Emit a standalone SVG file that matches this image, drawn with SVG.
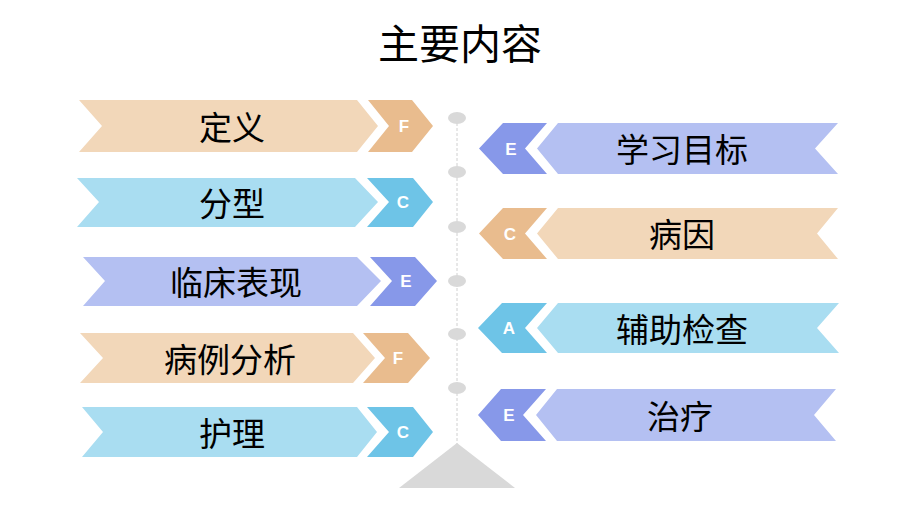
<svg xmlns="http://www.w3.org/2000/svg" width="920" height="517" viewBox="0 0 920 517">
<style>
.t{font-family:"Noto Sans CJK SC","Liberation Sans",sans-serif;font-size:33px;fill:#000;text-anchor:middle}
.title{font-family:"Noto Sans CJK SC","Liberation Sans",sans-serif;font-size:41px;fill:#000;text-anchor:middle}
.l{font-family:"Liberation Sans",Arial,sans-serif;font-size:17px;font-weight:bold;fill:#fff;text-anchor:middle}
.pb{fill:#F2D7B9}.ps{fill:#E9BC8E}
.bb{fill:#A9DDF1}.bs{fill:#6EC4E7}
.vb{fill:#B4C0F2}.vs{fill:#8798E9}
.dot{fill:#D9D9D9}
</style>
<rect width="920" height="517" fill="#fff"/>
<text class="title" x="460" y="59">主要内容</text>
<g id="connectors">
<line x1="457" y1="118" x2="457" y2="445" stroke="#D0D0D0" stroke-width="1" stroke-dasharray="3,2"/>
</g>
<g id="axis">
<ellipse class="dot" cx="457" cy="118" rx="9" ry="6"/>
<ellipse class="dot" cx="457" cy="172" rx="9" ry="6"/>
<ellipse class="dot" cx="457" cy="227" rx="9" ry="6"/>
<ellipse class="dot" cx="457" cy="281" rx="9" ry="6"/>
<ellipse class="dot" cx="457" cy="334" rx="9" ry="6"/>
<ellipse class="dot" cx="457" cy="388" rx="9" ry="6"/>
<polygon points="457,443 515,488 399,488" fill="#D9D9D9"/>
</g>
<g id="n-dingyi">
<polygon class="pb" points="79,100 357,100 378,126 357,152 79,152 102,126"/>
<polygon class="ps" points="368,100 412,100 433,126 412,152 368,152 389,126"/>
<text class="t" x="232" y="140">定义</text>
<text class="l" x="404" y="132">F</text>
</g>
<g id="n-fenxing">
<polygon class="bb" points="77,178 355,178 378,202 355,227 77,227 99,202"/>
<polygon class="bs" points="367,178 413,178 433,202 413,227 367,227 389,202"/>
<text class="t" x="232" y="216">分型</text>
<text class="l" x="403" y="208">C</text>
</g>
<g id="n-linchuang">
<polygon class="vb" points="83,257 357,257 381,281 357,306 83,306 105,281"/>
<polygon class="vs" points="370,257 415,257 437,281 415,306 370,306 392,281"/>
<text class="t" x="236" y="295">临床表现</text>
<text class="l" x="406" y="287">E</text>
</g>
<g id="n-bingli">
<polygon class="pb" points="80,333 353,333 375,358 353,383 80,383 103,358"/>
<polygon class="ps" points="363,333 408,333 430,358 408,383 363,383 385,358"/>
<text class="t" x="230" y="372">病例分析</text>
<text class="l" x="398" y="364">F</text>
</g>
<g id="n-huli">
<polygon class="bb" points="82,407 357,407 377,432 357,457 82,457 103,432"/>
<polygon class="bs" points="367,407 413,407 433,432 413,457 367,457 389,432"/>
<text class="t" x="232" y="446">护理</text>
<text class="l" x="403" y="438">C</text>
</g>
<g id="n-xuexi">
<polygon class="vs" points="479,148.5 503,123 547,123 525,148.5 547,174 503,174"/>
<polygon class="vb" points="537,148.5 558,123 838,123 815,148.5 838,174 558,174"/>
<text class="t" x="682" y="162">学习目标</text>
<text class="l" x="511" y="154.5">E</text>
</g>
<g id="n-bingyin">
<polygon class="ps" points="479,233.5 503,208 547,208 525,233.5 547,259 503,259"/>
<polygon class="pb" points="537,233.5 558,208 838,208 817,233.5 838,259 558,259"/>
<text class="t" x="682" y="247">病因</text>
<text class="l" x="510" y="239.5">C</text>
</g>
<g id="n-fuzhu">
<polygon class="bs" points="478,328 502,303 547,303 525,328 547,353 502,353"/>
<polygon class="bb" points="537,328 558,303 839,303 817,328 839,353 558,353"/>
<text class="t" x="682" y="342">辅助检查</text>
<text class="l" x="509" y="334">A</text>
</g>
<g id="n-zhiliao">
<polygon class="vs" points="478,415 501,389 546,389 523,415 546,441 501,441"/>
<polygon class="vb" points="536,415 557,389 836,389 814,415 836,441 557,441"/>
<text class="t" x="680" y="429">治疗</text>
<text class="l" x="509" y="421">E</text>
</g>
</svg>
